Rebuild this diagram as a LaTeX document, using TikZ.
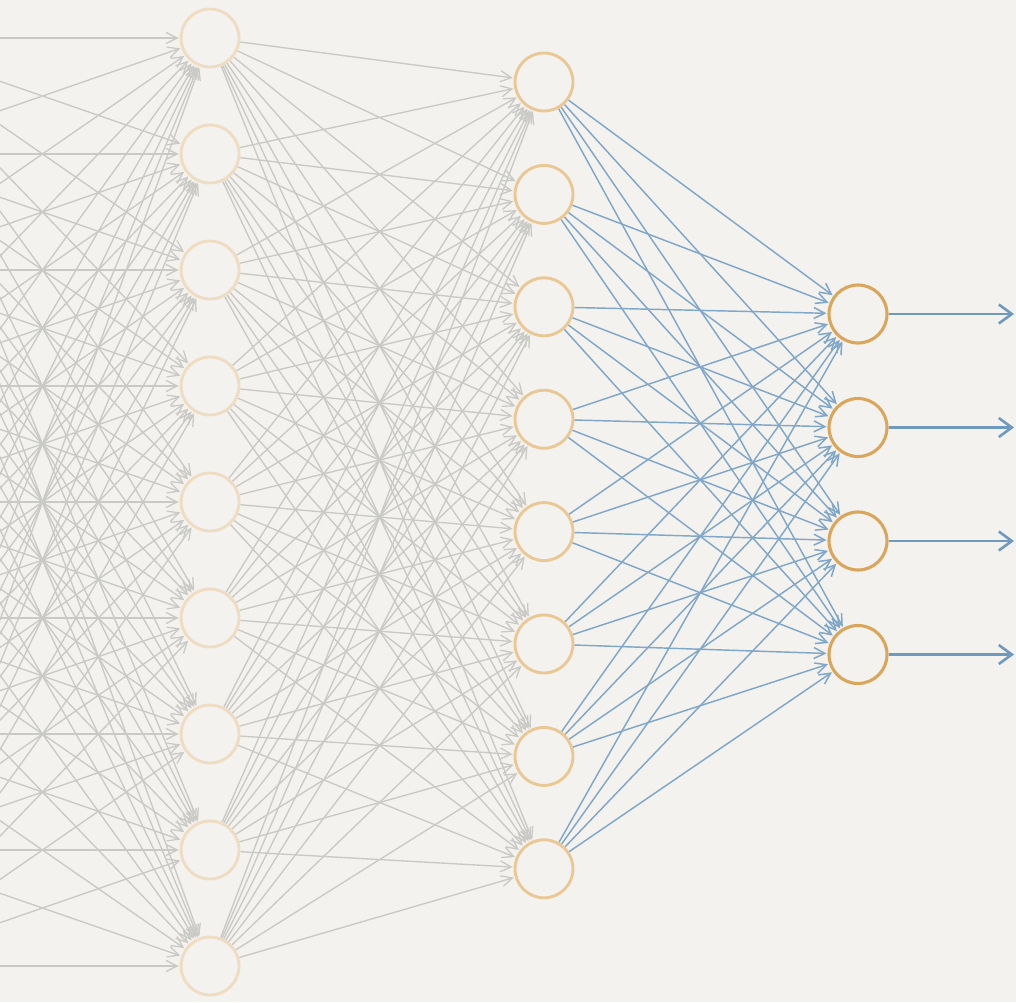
\documentclass[tikz,border=0pt]{standalone}
\usetikzlibrary{arrows.meta}

\definecolor{paper}{HTML}{F3F2EE}
\definecolor{wire}{HTML}{C9C9C6}
\definecolor{bluewire}{HTML}{80A6C8}
\definecolor{outwire}{HTML}{7099C0}
\definecolor{ringA}{HTML}{EEDDC2}
\definecolor{ringB}{HTML}{E9C896}
\definecolor{ringC}{HTML}{D9A65B}

\pgfdeclarelayer{wires}
\pgfsetlayers{wires,main}

\begin{document}
\begin{tikzpicture}[x=1pt,y=-1pt,
  neuron/.style={circle, minimum size=58pt, inner sep=0pt, fill=paper, line width=2.9pt},
  graywire/.style={draw=wire, line width=1.35pt, shorten >=1pt,
    -{Straight Barb[length=11pt,width=11pt,line width=1.3pt]}},
  bluelink/.style={draw=bluewire, line width=1.45pt, shorten >=1pt,
    -{Straight Barb[length=11pt,width=11pt,line width=1.5pt]}},
  outlink/.style={draw=outwire, line width=2.8pt,
    -{Straight Barb[length=13pt,width=19pt,line width=2.6pt]}}
]
\useasboundingbox (0,0) rectangle (1016,1002);

% feeding layer, left of the frame
\foreach \i in {1,...,9}
  \coordinate (x\i) at (-125, {38+116*(\i-1)});

% hidden layer 1
\foreach \i in {1,...,9}
  \node[neuron, draw=ringA] (a\i) at (210, {38+116*(\i-1)}) {};

% hidden layer 2
\foreach \j in {1,...,8}
  \node[neuron, draw=ringB] (b\j) at (544, {82+112.4*(\j-1)}) {};

% output layer
\foreach \k in {1,...,4}
  \node[neuron, draw=ringC, line width=3.1pt] (c\k) at (858, {314+113.5*(\k-1)}) {};

% ends of the output arrows
\foreach \k in {1,...,4}
  \coordinate (o\k) at (1014, {314+113.5*(\k-1)});

\begin{pgfonlayer}{wires}
  \fill[paper] (0,0) rectangle (1016,1002);
  \begin{scope}
    \clip (0,0) rectangle (1016,1002);
    \foreach \i in {1,...,9}
      \foreach \j in {1,...,9}
        \draw[graywire] (x\i) -- (a\j);
    \foreach \i in {1,...,9}
      \foreach \j in {1,...,8}
        \draw[graywire] (a\i) -- (b\j);
    \foreach \j in {1,...,8}
      \foreach \k in {1,...,4}
        \draw[bluelink] (b\j) -- (c\k);
    \foreach \k in {1,...,4}
      \draw[outlink] (c\k) -- (o\k);
  \end{scope}
\end{pgfonlayer}
\end{tikzpicture}
\end{document}
